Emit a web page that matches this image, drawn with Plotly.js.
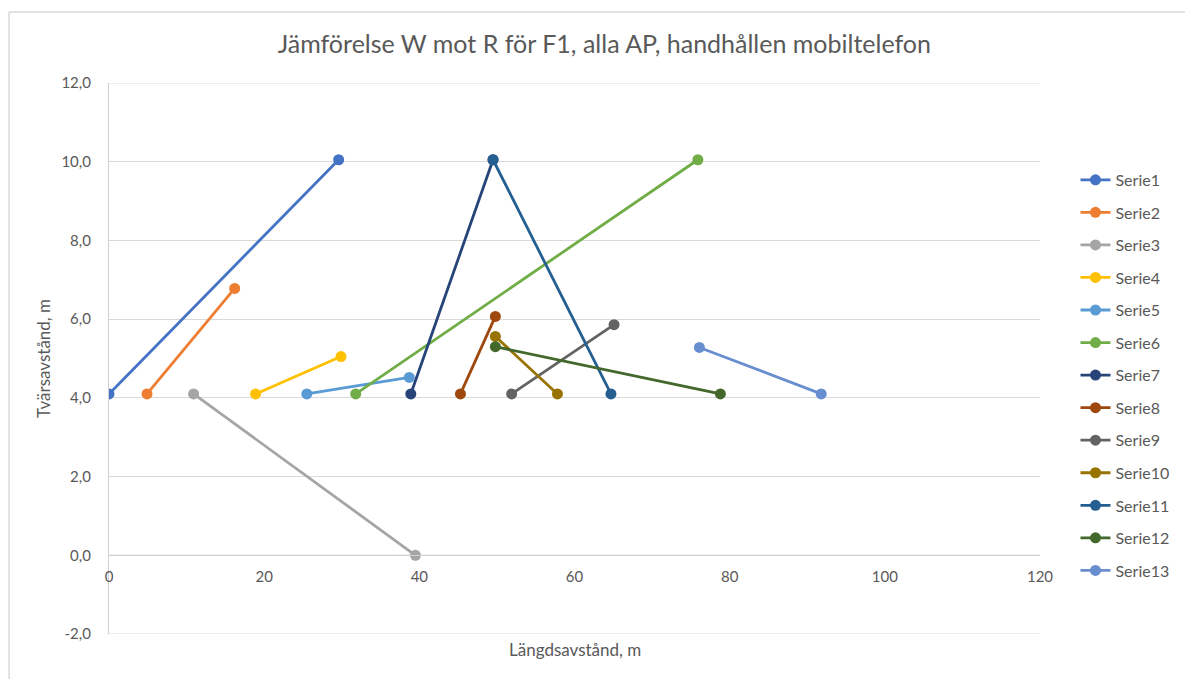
<!DOCTYPE html>
<html>
<head>
<meta charset="utf-8">
<script src="https://cdn.plot.ly/plotly-3.0.1.min.js"></script>
<style>html,body{margin:0;padding:0;background:#fff;}#chart{width:1185px;height:679px;}</style>
</head>
<body>
<div id="chart"></div>
<script>
const seriesNames = ["Serie1","Serie2","Serie3","Serie4","Serie5","Serie6","Serie7","Serie8","Serie9","Serie10","Serie11","Serie12","Serie13"];
const serieX = [
  [0, 29.6],
  [4.9, 16.2],
  [10.9, 39.5],
  [18.9, 29.9],
  [25.5, 38.7],
  [31.8, 75.9],
  [38.9, 49.5],
  [45.3, 49.8],
  [51.9, 65.1],
  [49.8, 57.8],
  [49.5, 64.7],
  [49.8, 78.8],
  [76.1, 91.8]
];
const serieY = [
  [4.1, 10.05],
  [4.1, 6.78],
  [4.1, 0.0],
  [4.1, 5.05],
  [4.1, 4.52],
  [4.1, 10.05],
  [4.1, 10.05],
  [4.1, 6.07],
  [4.1, 5.86],
  [5.56, 4.1],
  [10.05, 4.1],
  [5.3, 4.1],
  [5.28, 4.1]
];
const colors = ["#4472C4","#ED7D31","#A5A5A5","#FFC000","#5B9BD5","#70AD47","#264478","#9E480E","#636363","#997300","#255E91","#43682B","#698ED0"];
const xTicks = [0,20,40,60,80,100,120];
const yTicks = [-2,0,2,4,6,8,10,12];
const yTickText = yTicks.map(v => v.toFixed(1).replace(".", ","));

const FONT = "Lato, 'Open Sans', sans-serif";
const traces = seriesNames.map((n,i)=>({
  type:"scatter", mode:"lines+markers", name:n,
  x: serieX[i], y: serieY[i],
  line:{color:colors[i], width:2.8},
  marker:{color:colors[i], size:11},
  legendgroup:"g"+i
}));

const yMin=-2, yMax=12;
const edgeLines = [yMin, yMax].map(v => ({type:"line", xref:"paper", yref:"y", x0:0, x1:1, y0:v, y1:v,
  line:{color:"#d9d9d9", width:1.2}, layer:"below"}));
const layout = {
  width:1185, height:679,
  paper_bgcolor:"#fff", plot_bgcolor:"#fff",
  margin:{l:109, r:144, t:83, b:45},
  font:{family:FONT, color:"#595959"},
  title:{text:"Jämförelse W mot R för F1, alla AP, handhållen mobiltelefon", x:0.51, xanchor:"center", y:0.935, yanchor:"middle", font:{size:25, color:"#595959", family:FONT}},
  xaxis:{range:[0,120], tickvals:xTicks, ticktext:xTicks.map(String), showgrid:false, zeroline:false,
    showline:true, linecolor:"#d0d0d0", linewidth:1.2, anchor:"free", position:(0-yMin)/(yMax-yMin),
    ticks:"", ticklabelstandoff:8, tickfont:{size:15, color:"#595959"}},
  yaxis:{range:[yMin,yMax], tickvals:yTicks, ticktext:yTickText, showgrid:true, gridcolor:"#d9d9d9", gridwidth:1,
    zeroline:false, showline:true, linecolor:"#d0d0d0", linewidth:1.2, ticks:"", ticklabelstandoff:14,
    tickfont:{size:15, color:"#595959"},
    title:{text:"Tvärsavstånd, m", font:{size:17, color:"#595959"}, standoff:6}},
  legend:{x:1.037, xanchor:"left", y:0.855, yanchor:"top", traceorder:"grouped", tracegroupgap:8.75,
    font:{size:16, color:"#595959"}, itemwidth:30, bgcolor:"rgba(0,0,0,0)"},
  annotations:[{text:"Längdsavstånd, m", xref:"paper", yref:"paper", x:0.5, y:-0.005, xanchor:"center", yanchor:"top",
    showarrow:false, font:{size:17, color:"#595959", family:FONT}}],
  shapes:[
    {type:"line", xref:"paper", yref:"paper", x0:-0.1073, x1:-0.1073, y0:1.1289, y1:-0.2, line:{color:"#d9d9d9", width:1.5}},
    {type:"line", xref:"paper", yref:"paper", x0:-0.1073, x1:1.3, y0:1.1289, y1:1.1289, line:{color:"#d9d9d9", width:1.5}},
    {type:"line", xref:"paper", yref:"y", x0:0, x1:1, y0:0, y1:0, line:{color:"#c8c8c8", width:1.2}, layer:"below"}
  ].concat(edgeLines)
};
Plotly.newPlot("chart", traces, layout, {displayModeBar:false, responsive:false});
</script>
</body>
</html>
